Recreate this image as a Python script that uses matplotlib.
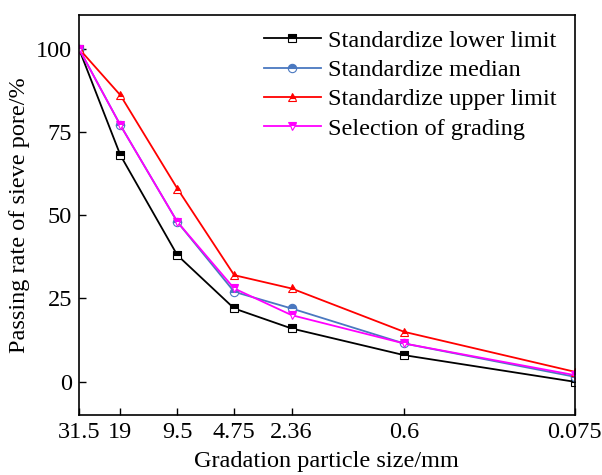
import matplotlib.pyplot as plt
from matplotlib.ticker import NullLocator

plt.rcParams['font.family'] = ['Liberation Serif', 'DejaVu Serif']

sizes = [31.5, 19, 9.5, 4.75, 2.36, 0.6, 0.075]
size_labels = ['31.5', '19', '9.5', '4.75', '2.36', '0.6', '0.075']

lower = [100, 68, 38, 22, 16, 8, 0]
median = [100, 77, 48, 27, 22, 11.5, 1.5]
upper = [100, 86, 58, 32, 28, 15, 3]
selected = [100, 77, 48, 28, 20, 11.5, 2]

series = [
    ('Standardize lower limit', lower, 'black', 's'),
    ('Standardize median', median, '#4a78c0', 'o'),
    ('Standardize upper limit', upper, 'red', '^'),
    ('Selection of grading', selected, 'magenta', 'v'),
]

fig = plt.figure(figsize=(6.02, 4.75), dpi=100)
ax = fig.add_axes([0.131, 0.126, 0.824, 0.842])

for name, vals, col, mk in series:
    ax.plot(sizes, vals, color=col, lw=1.3, marker=mk, markersize=6,
            fillstyle='top', markerfacecolor=col, markerfacecoloralt='white',
            markeredgecolor=col, markeredgewidth=0.8, label=name)

ax.set_xscale('log')
ax.set_xlim(31.5, 0.075)
ax.set_xticks(sizes)
ax.set_xticklabels(size_labels)
ax.xaxis.set_minor_locator(NullLocator())
ax.set_ylim(-10, 110)
ax.set_yticks([0, 25, 50, 75, 100])

ax.tick_params(direction='in', length=5, width=1, labelsize=17.5, pad=5)
for sp in ax.spines.values():
    sp.set_linewidth(1.2)

ax.set_xlabel('Gradation particle size/mm', fontsize=17.5, labelpad=6)
ax.set_ylabel('Passing rate of sieve pore/%', fontsize=17.5, labelpad=4)

ax.legend(loc='upper right', frameon=False, fontsize=17.5, handlelength=2.35,
          handletextpad=0.3, labelspacing=0.3, borderaxespad=0.2,
          bbox_to_anchor=(0.993, 1.0))

fig.savefig('out.png', dpi=100)
